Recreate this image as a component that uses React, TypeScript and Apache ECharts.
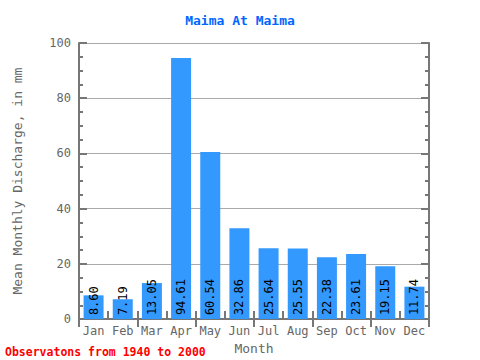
import React, { useEffect, useRef } from "react";
import * as echarts from "echarts";

const months = ["Jan", "Feb", "Mar", "Apr", "May", "Jun", "Jul", "Aug", "Sep", "Oct", "Nov", "Dec"];
const discharge = [8.6, 7.19, 13.05, 94.61, 60.54, 32.86, 25.64, 25.55, 22.38, 23.61, 19.15, 11.74];
const labels = ["8.60", "7.19", "13.05", "94.61", "60.54", "32.86", "25.64", "25.55", "22.38", "23.61", "19.15", "11.74"];

const FONT = "'DejaVu Sans Mono', 'Liberation Mono', monospace";
const AXIS = "#777777";

export default function App() {
  const ref = useRef<HTMLDivElement>(null);
  useEffect(() => {
    const chart = echarts.init(ref.current!, null, { renderer: "svg" });
    const tickStyle = { show: true, inside: true, length: 8, lineStyle: { color: AXIS, width: 2 } };
    const minorStyle = { show: true, splitNumber: 4, length: 4, lineStyle: { color: AXIS, width: 2 } };
    chart.setOption({
      animation: false,
      title: {
        text: "Maima At Maima",
        left: "center",
        top: 9,
        textStyle: { color: "#0066ff", fontFamily: FONT, fontSize: 13, fontWeight: "bold" },
      },
      grid: { left: 79, right: 51, top: 43, bottom: 38 },
      xAxis: [
        {
          type: "category",
          data: months,
          position: "bottom",
          axisLine: { lineStyle: { color: AXIS, width: 2 } },
          axisTick: tickStyle,
          axisLabel: { color: "#666666", fontFamily: FONT, fontSize: 12, margin: 6 },
          name: "Month",
          nameLocation: "middle",
          nameGap: 20,
          nameTextStyle: { color: "#666666", fontFamily: FONT, fontSize: 13 },
        },
        {
          type: "category",
          data: months,
          position: "top",
          axisLine: { lineStyle: { color: AXIS, width: 2 } },
          axisTick: tickStyle,
          axisLabel: { show: false },
        },
      ],
      yAxis: [
        {
          type: "value",
          min: 0,
          max: 100,
          interval: 20,
          position: "left",
          axisLine: { show: true, lineStyle: { color: AXIS, width: 2 } },
          axisTick: tickStyle,
          minorTick: minorStyle,
          axisLabel: { color: "#666666", fontFamily: FONT, fontSize: 12, margin: 8 },
          splitLine: { show: true, lineStyle: { color: "#aaaaaa", width: 1 } },
          name: "Mean Monthly Discharge, in mm",
          nameLocation: "middle",
          nameGap: 55,
          nameTextStyle: { color: "#666666", fontFamily: FONT, fontSize: 13 },
        },
        {
          type: "value",
          min: 0,
          max: 100,
          interval: 20,
          position: "right",
          axisLine: { show: true, lineStyle: { color: AXIS, width: 2 } },
          axisTick: tickStyle,
          minorTick: minorStyle,
          axisLabel: { show: false },
          splitLine: { show: false },
        },
      ],
      graphic: [
        {
          type: "text",
          left: 5,
          top: 346,
          style: {
            text: "Observatons from 1940 to 2000",
            fill: "#ff0000",
            font: `bold 11.5px ${FONT}`,
          },
        },
      ],
      series: [
        {
          type: "bar",
          data: discharge,
          barWidth: 20,
          itemStyle: { color: "#3399ff" },
          label: {
            show: true,
            position: "insideBottom",
            rotate: 90,
            align: "left",
            verticalAlign: "middle",
            distance: 4,
            color: "#000000",
            fontFamily: FONT,
            fontSize: 12,
            formatter: (p: any) => labels[p.dataIndex],
          },
        },
      ],
    });
    return () => chart.dispose();
  }, []);
  return <div ref={ref} style={{ width: 480, height: 360, position: "absolute", left: 0, top: 0 }} />;
}
